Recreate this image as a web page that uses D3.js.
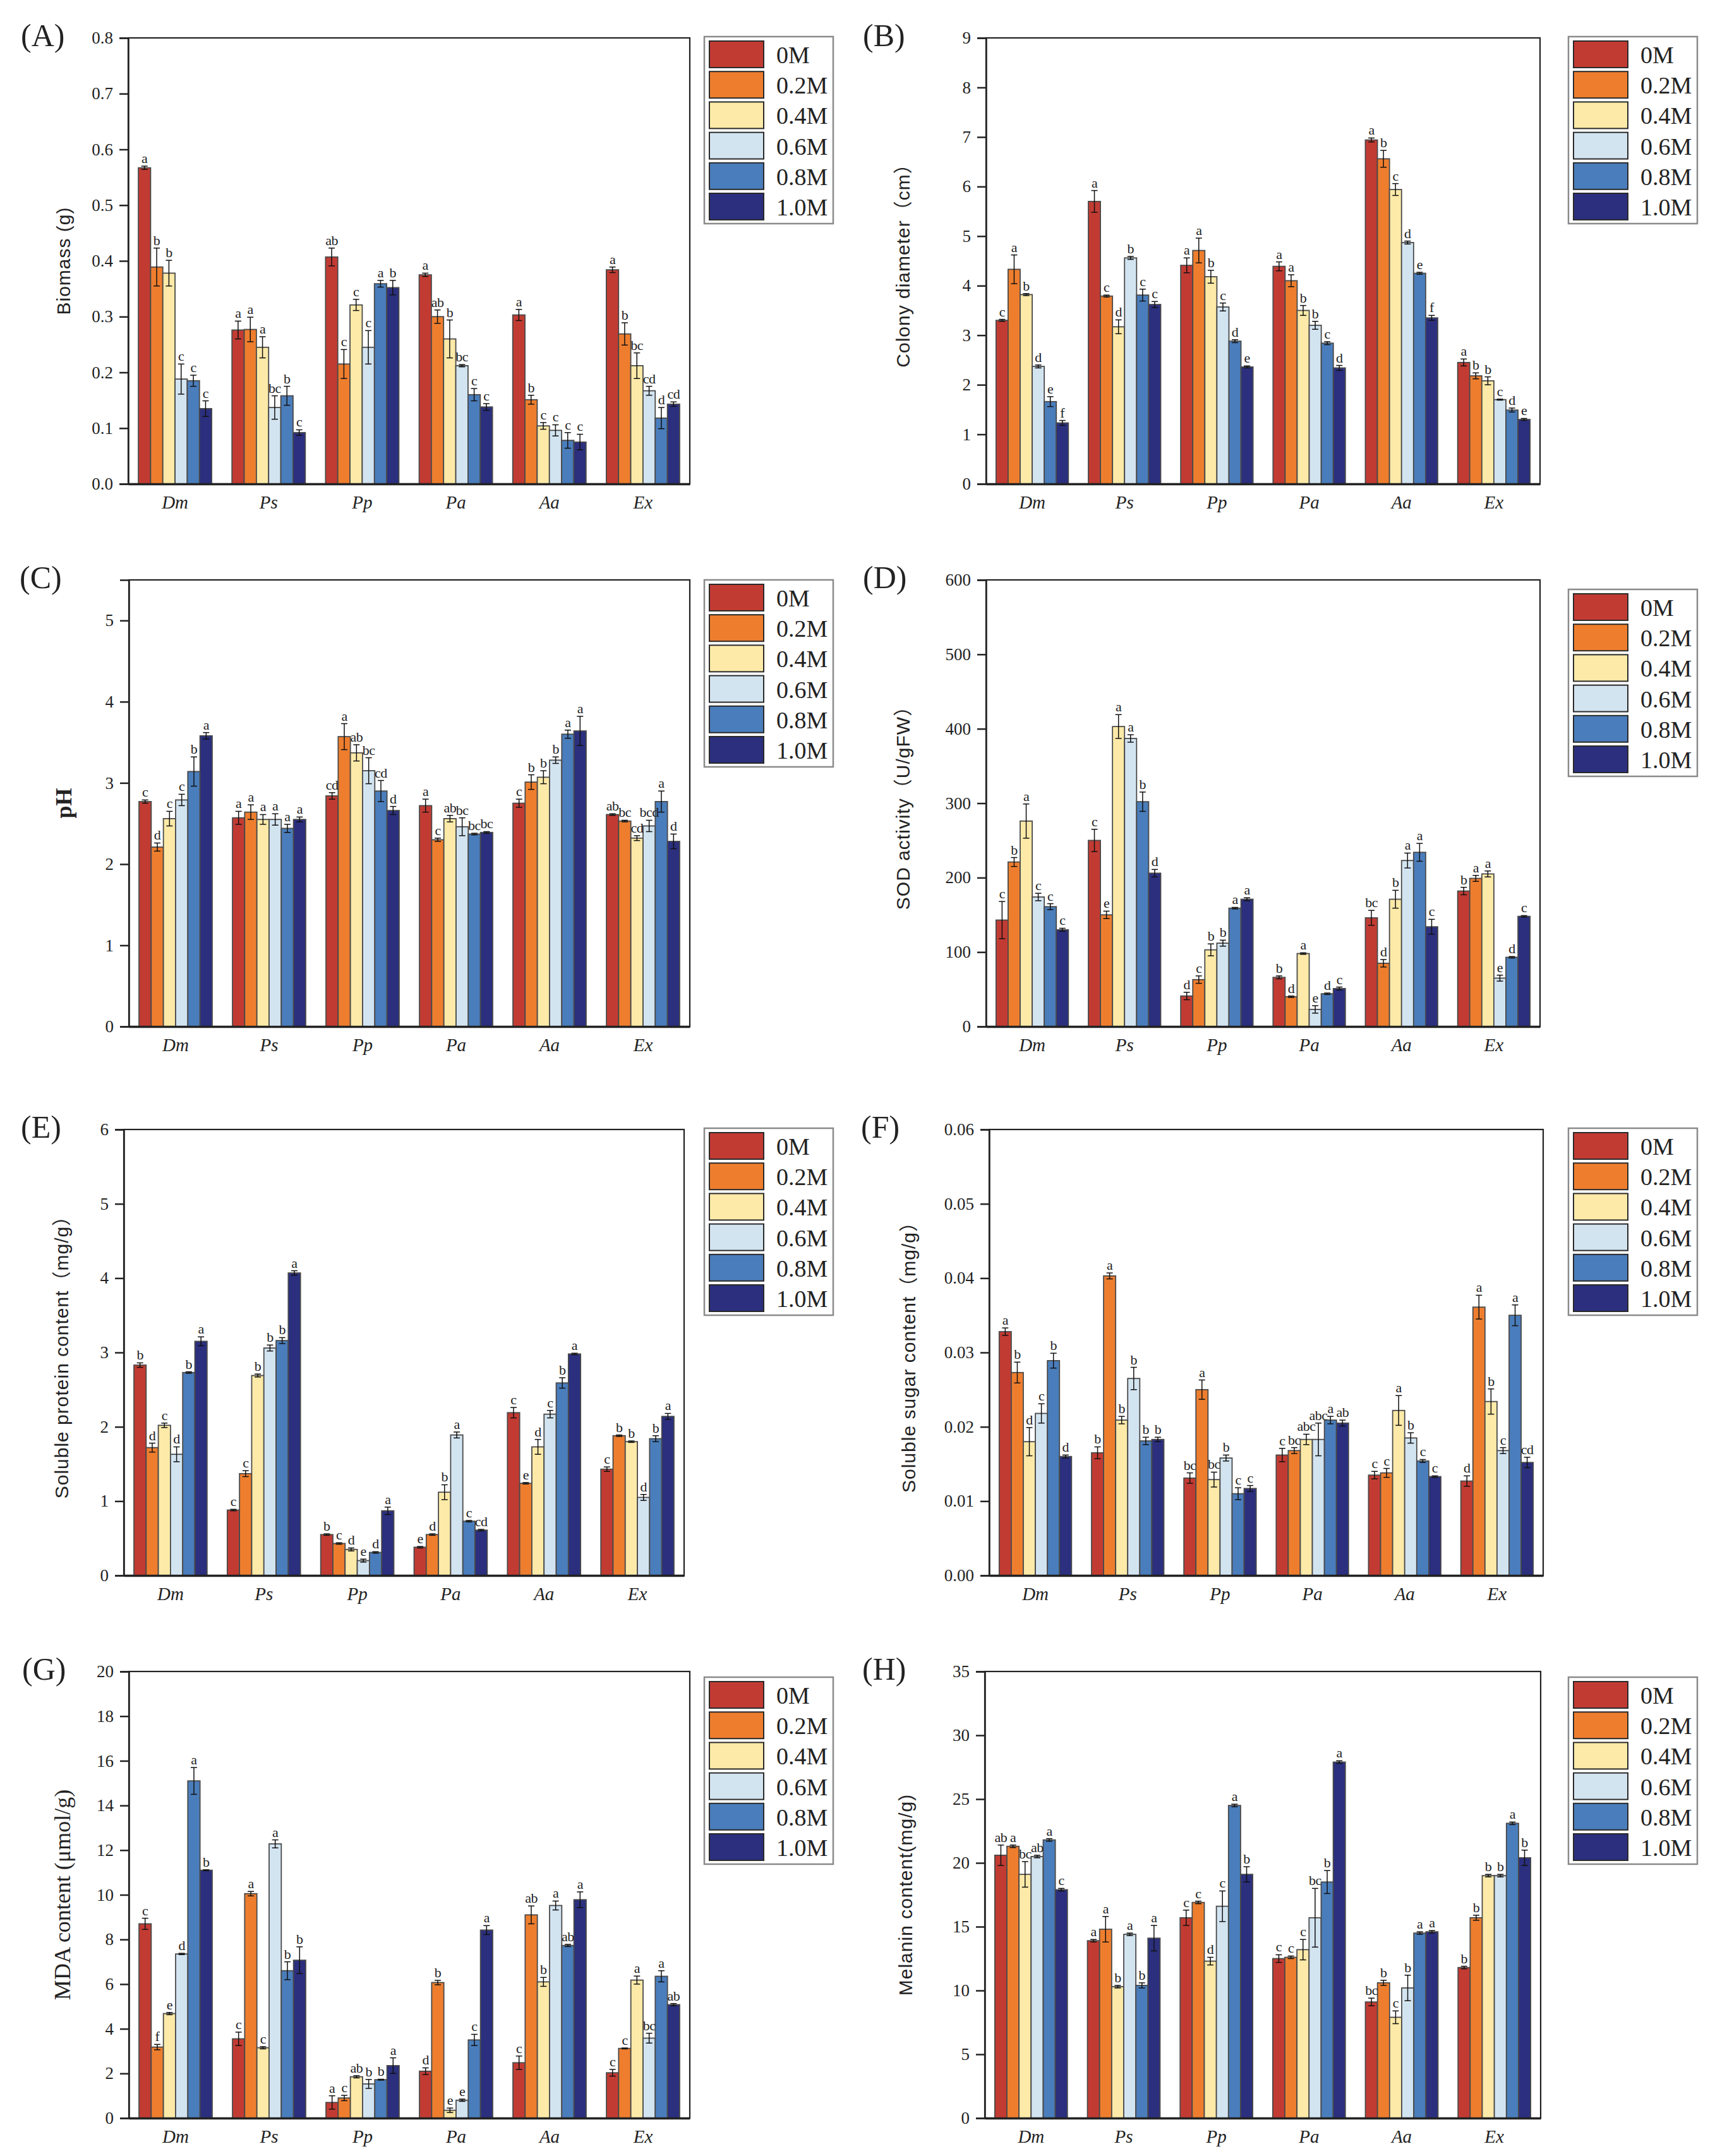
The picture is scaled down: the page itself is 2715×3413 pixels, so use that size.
<!DOCTYPE html>
<html>
<head>
<meta charset="utf-8">
<script src="https://cdn.jsdelivr.net/npm/d3@7/dist/d3.min.js"></script>
<style>
  html, body { margin: 0; padding: 0; background: #ffffff; }
  svg { display: block; }
</style>
</head>
<body>
<svg id="chart" width="2715" height="3413"></svg>
<script>
// ---------------- DATA ----------------
const categories = ["Dm", "Ps", "Pp", "Pa", "Aa", "Ex"];
const series = ["0M", "0.2M", "0.4M", "0.6M", "0.8M", "1.0M"];
const seriesColors = ["#c23b33", "#ee7e2e", "#fdeaa8", "#d3e4f1", "#4a7dbb", "#2b2f7e"];

// (A) Biomass (g)
const biomassValues = [
  [0.567, 0.389, 0.378, 0.188, 0.185, 0.135],
  [0.276, 0.277, 0.245, 0.137, 0.158, 0.092],
  [0.407, 0.215, 0.321, 0.245, 0.359, 0.352],
  [0.375, 0.300, 0.260, 0.212, 0.160, 0.138],
  [0.303, 0.151, 0.104, 0.096, 0.078, 0.075],
  [0.384, 0.269, 0.212, 0.167, 0.118, 0.143]
];
const biomassErrors = [
  [0.003, 0.034, 0.023, 0.027, 0.010, 0.014],
  [0.016, 0.022, 0.019, 0.021, 0.017, 0.005],
  [0.016, 0.026, 0.010, 0.030, 0.006, 0.013],
  [0.003, 0.012, 0.034, 0.002, 0.011, 0.006],
  [0.010, 0.008, 0.006, 0.010, 0.014, 0.014],
  [0.005, 0.020, 0.023, 0.008, 0.019, 0.004]
];
const biomassLetters = [
  ["a", "b", "b", "c", "c", "c"],
  ["a", "a", "a", "bc", "b", "c"],
  ["ab", "c", "c", "c", "a", "b"],
  ["a", "ab", "b", "bc", "c", "c"],
  ["a", "b", "c", "c", "c", "c"],
  ["a", "b", "bc", "cd", "d", "cd"]
];
const biomassTicks = [0, 0.1, 0.2, 0.3, 0.4, 0.5, 0.6, 0.7, 0.8];

// (B) Colony diameter (cm)
const colonyValues = [
  [3.30, 4.33, 3.82, 2.37, 1.66, 1.23],
  [5.70, 3.79, 3.17, 4.56, 3.81, 3.62],
  [4.41, 4.71, 4.18, 3.57, 2.88, 2.36],
  [4.39, 4.10, 3.50, 3.20, 2.84, 2.34],
  [6.94, 6.56, 5.94, 4.87, 4.25, 3.35],
  [2.45, 2.18, 2.08, 1.70, 1.49, 1.30]
];
const colonyErrors = [
  [0.02, 0.29, 0.02, 0.03, 0.10, 0.05],
  [0.22, 0.02, 0.14, 0.03, 0.12, 0.06],
  [0.15, 0.25, 0.13, 0.08, 0.03, 0.02],
  [0.09, 0.12, 0.10, 0.08, 0.03, 0.05],
  [0.04, 0.17, 0.12, 0.03, 0.02, 0.05],
  [0.07, 0.06, 0.08, 0.01, 0.04, 0.02]
];
const colonyLetters = [
  ["c", "a", "b", "d", "e", "f"],
  ["a", "c", "d", "b", "c", "c"],
  ["a", "a", "b", "c", "d", "e"],
  ["a", "a", "b", "b", "c", "d"],
  ["a", "b", "c", "d", "e", "f"],
  ["a", "b", "b", "c", "d", "e"]
];
const colonyTicks = [0, 1, 2, 3, 4, 5, 6, 7, 8, 9];

// (C) pH
const phValues = [
  [2.77, 2.21, 2.56, 2.79, 3.14, 3.58],
  [2.57, 2.64, 2.55, 2.55, 2.44, 2.55],
  [2.84, 3.57, 3.37, 3.15, 2.90, 2.66],
  [2.72, 2.30, 2.56, 2.46, 2.37, 2.39],
  [2.75, 3.01, 3.07, 3.28, 3.60, 3.64],
  [2.61, 2.53, 2.32, 2.47, 2.77, 2.28]
];
const phErrors = [
  [0.02, 0.05, 0.09, 0.07, 0.18, 0.04],
  [0.08, 0.09, 0.06, 0.07, 0.05, 0.03],
  [0.04, 0.16, 0.10, 0.16, 0.13, 0.05],
  [0.08, 0.02, 0.04, 0.11, 0.01, 0.01],
  [0.05, 0.09, 0.08, 0.04, 0.05, 0.18],
  [0.01, 0.01, 0.03, 0.07, 0.13, 0.09]
];
const phLetters = [
  ["c", "d", "c", "c", "b", "a"],
  ["a", "a", "a", "a", "a", "a"],
  ["cd", "a", "ab", "bc", "cd", "d"],
  ["a", "c", "ab", "bc", "bc", "bc"],
  ["c", "b", "b", "b", "a", "a"],
  ["ab", "bc", "cd", "bcd", "a", "d"]
];
const phTicks = [0, 1, 2, 3, 4, 5];

// (D) SOD activity (U/gFW)
const sodValues = [
  [143, 221, 276, 174, 161, 130],
  [250, 150, 403, 387, 302, 206],
  [41, 63, 103, 112, 159, 171],
  [66, 40, 98, 23, 44, 51],
  [146, 85, 171, 223, 234, 134],
  [182, 199, 205, 65, 93, 148]
];
const sodErrors = [
  [25, 6, 23, 5, 4, 2],
  [15, 5, 16, 5, 13, 5],
  [5, 5, 8, 4, 1, 2],
  [2, 1, 1, 5, 1, 2],
  [10, 5, 12, 10, 12, 10],
  [5, 4, 4, 4, 1, 1]
];
const sodLetters = [
  ["c", "b", "a", "c", "c", "c"],
  ["c", "e", "a", "a", "b", "d"],
  ["d", "c", "b", "b", "a", "a"],
  ["b", "d", "a", "e", "d", "c"],
  ["bc", "d", "b", "a", "a", "c"],
  ["b", "a", "a", "e", "d", "c"]
];
const sodTicks = [0, 100, 200, 300, 400, 500, 600];

// (E) Soluble protein content (mg/g)
const proteinValues = [
  [2.83, 1.72, 2.02, 1.63, 2.73, 3.15],
  [0.88, 1.37, 2.69, 3.06, 3.16, 4.07],
  [0.55, 0.43, 0.35, 0.20, 0.31, 0.87],
  [0.38, 0.55, 1.12, 1.89, 0.73, 0.61],
  [2.19, 1.24, 1.73, 2.17, 2.59, 2.98],
  [1.43, 1.88, 1.80, 1.05, 1.84, 2.14]
];
const proteinErrors = [
  [0.03, 0.06, 0.03, 0.10, 0.01, 0.06],
  [0.01, 0.04, 0.02, 0.04, 0.04, 0.03],
  [0.01, 0.01, 0.02, 0.02, 0.01, 0.05],
  [0.01, 0.01, 0.10, 0.04, 0.01, 0.01],
  [0.07, 0.01, 0.10, 0.05, 0.07, 0.01],
  [0.03, 0.01, 0.01, 0.04, 0.04, 0.04]
];
const proteinLetters = [
  ["b", "d", "c", "d", "b", "a"],
  ["c", "c", "b", "b", "b", "a"],
  ["b", "c", "d", "e", "d", "a"],
  ["e", "d", "b", "a", "c", "cd"],
  ["c", "e", "d", "c", "b", "a"],
  ["c", "b", "b", "d", "b", "a"]
];
const proteinTicks = [0, 1, 2, 3, 4, 5, 6];

// (F) Soluble sugar content (mg/g)
const sugarValues = [
  [0.0328, 0.0273, 0.0180, 0.0218, 0.0289, 0.0160],
  [0.0165, 0.0403, 0.0209, 0.0265, 0.0181, 0.0183],
  [0.0131, 0.0250, 0.0129, 0.0158, 0.0110, 0.0117],
  [0.0162, 0.0168, 0.0183, 0.0183, 0.0209, 0.0205],
  [0.0135, 0.0138, 0.0222, 0.0185, 0.0154, 0.0133],
  [0.0127, 0.0361, 0.0234, 0.0168, 0.0350, 0.0152]
];
const sugarErrors = [
  [0.0005, 0.0014, 0.0019, 0.0013, 0.0010, 0.0002],
  [0.0008, 0.0004, 0.0005, 0.0015, 0.0005, 0.0003],
  [0.0007, 0.0013, 0.0010, 0.0004, 0.0008, 0.0004],
  [0.0009, 0.0004, 0.0007, 0.0022, 0.0005, 0.0004],
  [0.0005, 0.0006, 0.0020, 0.0007, 0.0002, 0.0001],
  [0.0007, 0.0016, 0.0017, 0.0004, 0.0014, 0.0007]
];
const sugarLetters = [
  ["a", "b", "d", "c", "b", "d"],
  ["b", "a", "b", "b", "b", "b"],
  ["bc", "a", "bc", "b", "c", "c"],
  ["c", "bc", "abc", "abc", "a", "ab"],
  ["c", "c", "a", "b", "c", "c"],
  ["d", "a", "b", "c", "a", "cd"]
];
const sugarTicks = [0, 0.01, 0.02, 0.03, 0.04, 0.05, 0.06];

// (G) MDA content (umol/g)
const mdaValues = [
  [8.70, 3.18, 4.68, 7.35, 15.10, 11.10],
  [3.55, 10.05, 3.15, 12.28, 6.60, 7.07],
  [0.70, 0.90, 1.85, 1.53, 1.72, 2.35],
  [2.10, 6.07, 0.35, 0.80, 3.50, 8.42],
  [2.48, 9.10, 6.10, 9.52, 7.73, 9.78],
  [2.03, 3.12, 6.18, 3.58, 6.35, 5.08]
];
const mdaErrors = [
  [0.25, 0.12, 0.05, 0.03, 0.60, 0.02],
  [0.30, 0.10, 0.05, 0.18, 0.40, 0.60],
  [0.30, 0.12, 0.05, 0.20, 0.02, 0.35],
  [0.15, 0.10, 0.10, 0.05, 0.25, 0.20],
  [0.30, 0.40, 0.20, 0.20, 0.05, 0.35],
  [0.15, 0.02, 0.18, 0.22, 0.25, 0.05]
];
const mdaLetters = [
  ["c", "f", "e", "d", "a", "b"],
  ["c", "a", "c", "a", "b", "b"],
  ["a", "c", "ab", "b", "b", "a"],
  ["d", "b", "e", "e", "c", "a"],
  ["c", "ab", "b", "a", "ab", "a"],
  ["c", "c", "a", "bc", "a", "ab"]
];
const mdaTicks = [0, 2, 4, 6, 8, 10, 12, 14, 16, 18, 20];

// (H) Melanin content (mg/g)
const melaninValues = [
  [20.6, 21.3, 19.1, 20.5, 21.8, 17.9],
  [13.9, 14.8, 10.3, 14.4, 10.4, 14.1],
  [15.7, 16.9, 12.3, 16.6, 24.5, 19.1],
  [12.5, 12.6, 13.2, 15.7, 18.5, 27.9],
  [9.1, 10.6, 7.9, 10.2, 14.5, 14.6],
  [11.8, 15.7, 19.0, 19.0, 23.1, 20.4]
];
const melaninErrors = [
  [0.8, 0.1, 1.0, 0.1, 0.1, 0.1],
  [0.1, 1.0, 0.1, 0.1, 0.2, 1.0],
  [0.6, 0.1, 0.3, 1.2, 0.1, 0.6],
  [0.3, 0.1, 0.8, 2.3, 0.9, 0.1],
  [0.3, 0.2, 0.5, 1.0, 0.1, 0.1],
  [0.1, 0.2, 0.1, 0.1, 0.1, 0.6]
];
const melaninLetters = [
  ["ab", "a", "bc", "ab", "a", "c"],
  ["a", "a", "b", "a", "b", "a"],
  ["c", "c", "d", "c", "a", "b"],
  ["c", "c", "c", "bc", "b", "a"],
  ["bc", "b", "c", "b", "a", "a"],
  ["b", "b", "b", "b", "a", "b"]
];
const melaninTicks = [0, 5, 10, 15, 20, 25, 30, 35];

// ---------------- PANELS ----------------
const SERIF = "'Liberation Serif', 'Times New Roman', Times, serif";
const SANS = "'Liberation Sans', Arial, 'Noto Sans CJK SC', sans-serif";

const panels = [
  { label: "(A)", title: "Biomass (g)", titleFont: SANS, values: biomassValues, errors: biomassErrors, letters: biomassLetters, ticks: biomassTicks, yMax: 0.8, fmt: ".1f",
    box: { x0: 203, x1: 1092, y0: 60, y1: 766 }, legend: { x: 1115, y: 58 }, labelX: 33, titleX: 103 },
  { label: "(B)", title: "Colony diameter（cm）", titleFont: SANS, values: colonyValues, errors: colonyErrors, letters: colonyLetters, ticks: colonyTicks, yMax: 9, fmt: "d",
    box: { x0: 1561, x1: 2438, y0: 60, y1: 766 }, legend: { x: 2483, y: 58 }, labelX: 1366, titleX: 1432 },
  { label: "(C)", title: "pH", titleFont: SERIF, titleWeight: "bold", values: phValues, errors: phErrors, letters: phLetters, ticks: phTicks, yMax: 5.5, fmt: "d",
    box: { x0: 204, x1: 1092, y0: 918, y1: 1625 }, legend: { x: 1115, y: 918 }, labelX: 31, titleX: 105 },
  { label: "(D)", title: "SOD activity（U/gFW）", titleFont: SANS, values: sodValues, errors: sodErrors, letters: sodLetters, ticks: sodTicks, yMax: 600, fmt: "d",
    box: { x0: 1561, x1: 2438, y0: 918, y1: 1625 }, legend: { x: 2483, y: 933 }, labelX: 1366, titleX: 1432 },
  { label: "(E)", title: "Soluble protein content（mg/g）", titleFont: SANS, values: proteinValues, errors: proteinErrors, letters: proteinLetters, ticks: proteinTicks, yMax: 6, fmt: "d",
    box: { x0: 196, x1: 1083, y0: 1788, y1: 2494 }, legend: { x: 1115, y: 1786 }, labelX: 33, titleX: 100 },
  { label: "(F)", title: "Soluble sugar content（mg/g）", titleFont: SANS, values: sugarValues, errors: sugarErrors, letters: sugarLetters, ticks: sugarTicks, yMax: 0.06, fmt: ".2f",
    box: { x0: 1566, x1: 2443, y0: 1788, y1: 2494 }, legend: { x: 2483, y: 1786 }, labelX: 1363, titleX: 1441 },
  { label: "(G)", title: "MDA content (μmol/g)", titleFont: SERIF, values: mdaValues, errors: mdaErrors, letters: mdaLetters, ticks: mdaTicks, yMax: 20, fmt: "d",
    box: { x0: 204, x1: 1092, y0: 2646, y1: 3353 }, legend: { x: 1115, y: 2655 }, labelX: 35, titleX: 103 },
  { label: "(H)", title: "Melanin content(mg/g)", titleFont: SANS, values: melaninValues, errors: melaninErrors, letters: melaninLetters, ticks: melaninTicks, yMax: 35, fmt: "d",
    box: { x0: 1559, x1: 2439, y0: 2646, y1: 3353 }, legend: { x: 2483, y: 2655 }, labelX: 1365, titleX: 1436 }
];

// ---------------- DRAW ----------------
const svg = d3.select("#chart");
svg.append("rect").attr("width", 2715).attr("height", 3413).attr("fill", "#ffffff");

const color = d3.scaleOrdinal().domain(series).range(seriesColors);

panels.forEach(p => {
  const g = svg.append("g");
  const { x0, x1, y0, y1 } = p.box;

  const x = d3.scaleBand().domain(categories).range([x0, x1]).paddingInner(0).paddingOuter(0);
  const xs = d3.scaleBand().domain(series).range([0, x.bandwidth()]).paddingInner(0).paddingOuter(0.83);
  const y = d3.scaleLinear().domain([0, p.yMax]).range([y1, y0]);

  // frame (top and right)
  g.append("rect")
    .attr("x", x0).attr("y", y0).attr("width", x1 - x0).attr("height", y1 - y0)
    .attr("fill", "none").attr("stroke", "#222").attr("stroke-width", 2.2);

  // bars
  const rows = [];
  categories.forEach((c, i) => {
    series.forEach((s, j) => {
      rows.push({ c, s, v: p.values[i][j], e: p.errors[i][j], l: p.letters[i][j] });
    });
  });

  const bw = xs.bandwidth();
  g.selectAll("rect.bar").data(rows).enter().append("rect")
    .attr("class", "bar")
    .attr("x", d => x(d.c) + xs(d.s))
    .attr("y", d => y(d.v))
    .attr("width", bw)
    .attr("height", d => y(0) - y(d.v))
    .attr("fill", d => color(d.s))
    .attr("stroke", "#4a4a4a")
    .attr("stroke-width", 1.8);

  // error bars
  const cap = 5;
  const eb = g.selectAll("g.err").data(rows).enter().append("g").attr("class", "err");
  const cx = d => x(d.c) + xs(d.s) + bw / 2;
  eb.append("line")
    .attr("x1", cx).attr("x2", cx)
    .attr("y1", d => y(Math.max(0, d.v - d.e))).attr("y2", d => y(d.v + d.e))
    .attr("stroke", "#111").attr("stroke-width", 1.5);
  eb.append("line")
    .attr("x1", d => cx(d) - cap).attr("x2", d => cx(d) + cap)
    .attr("y1", d => y(d.v + d.e)).attr("y2", d => y(d.v + d.e))
    .attr("stroke", "#111").attr("stroke-width", 1.5);
  eb.append("line")
    .attr("x1", d => cx(d) - cap).attr("x2", d => cx(d) + cap)
    .attr("y1", d => y(Math.max(0, d.v - d.e))).attr("y2", d => y(Math.max(0, d.v - d.e)))
    .attr("stroke", "#111").attr("stroke-width", 1.5);

  // significance letters
  g.selectAll("text.sig").data(rows).enter().append("text")
    .attr("class", "sig")
    .attr("x", cx)
    .attr("y", d => y(d.v + d.e) - 5)
    .attr("text-anchor", "middle")
    .attr("font-family", SERIF)
    .attr("font-size", 22)
    .attr("letter-spacing", -0.5)
    .attr("fill", "#222")
    .text(d => d.l);

  // y axis
  const yAxis = d3.axisLeft(y).tickValues(p.ticks).tickFormat(d3.format(p.fmt)).tickSize(14).tickPadding(10);
  const ya = g.append("g").attr("transform", `translate(${x0},0)`).call(yAxis);
  ya.select(".domain").attr("stroke", "#222").attr("stroke-width", 2.5);
  ya.selectAll(".tick line").attr("stroke", "#222").attr("stroke-width", 2.5);
  ya.selectAll(".tick text").attr("font-family", SERIF).attr("font-size", 27).attr("fill", "#222");

  // x axis
  const xAxis = d3.axisBottom(x).tickSize(0).tickPadding(18);
  const xa = g.append("g").attr("transform", `translate(0,${y1})`).call(xAxis);
  xa.select(".domain").attr("stroke", "#222").attr("stroke-width", 3.5);
  xa.selectAll(".tick text").attr("font-family", SERIF).attr("font-style", "italic")
    .attr("font-size", 29).attr("fill", "#222");

  // y title
  g.append("text")
    .attr("transform", `translate(${p.titleX},${(y0 + y1) / 2}) rotate(-90)`)
    .attr("text-anchor", "middle")
    .attr("dominant-baseline", "middle")
    .attr("font-family", p.titleFont)
    .attr("font-weight", p.titleWeight || "normal")
    .attr("font-size", p.titleFont === SERIF ? 36 : 30)
    .attr("letter-spacing", p.titleFont === SERIF ? 0 : 1)
    .attr("fill", "#222")
    .text(p.title);

  // panel label
  g.append("text")
    .attr("x", p.labelX).attr("y", y0 + 13)
    .attr("font-family", SERIF).attr("font-size", 50).attr("fill", "#222")
    .text(p.label);

  // legend
  const lg = g.append("g").attr("transform", `translate(${p.legend.x},${p.legend.y})`);
  lg.append("rect").attr("x", 0).attr("y", 0).attr("width", 204).attr("height", 296)
    .attr("fill", "#fff").attr("stroke", "#8a8a8a").attr("stroke-width", 2.5);
  const step = 48.2;
  const items = lg.selectAll("g.item").data(series).enter().append("g")
    .attr("transform", (d, i) => `translate(0,${7 + i * step})`);
  items.append("rect").attr("x", 8).attr("y", 0).attr("width", 86).attr("height", 42)
    .attr("fill", d => color(d)).attr("stroke", "#2a2a2a").attr("stroke-width", 2);
  items.append("text").attr("x", 114).attr("y", 35)
    .attr("font-family", SERIF).attr("font-size", 38).attr("fill", "#222")
    .text(d => d);
});
</script>
</body>
</html>
